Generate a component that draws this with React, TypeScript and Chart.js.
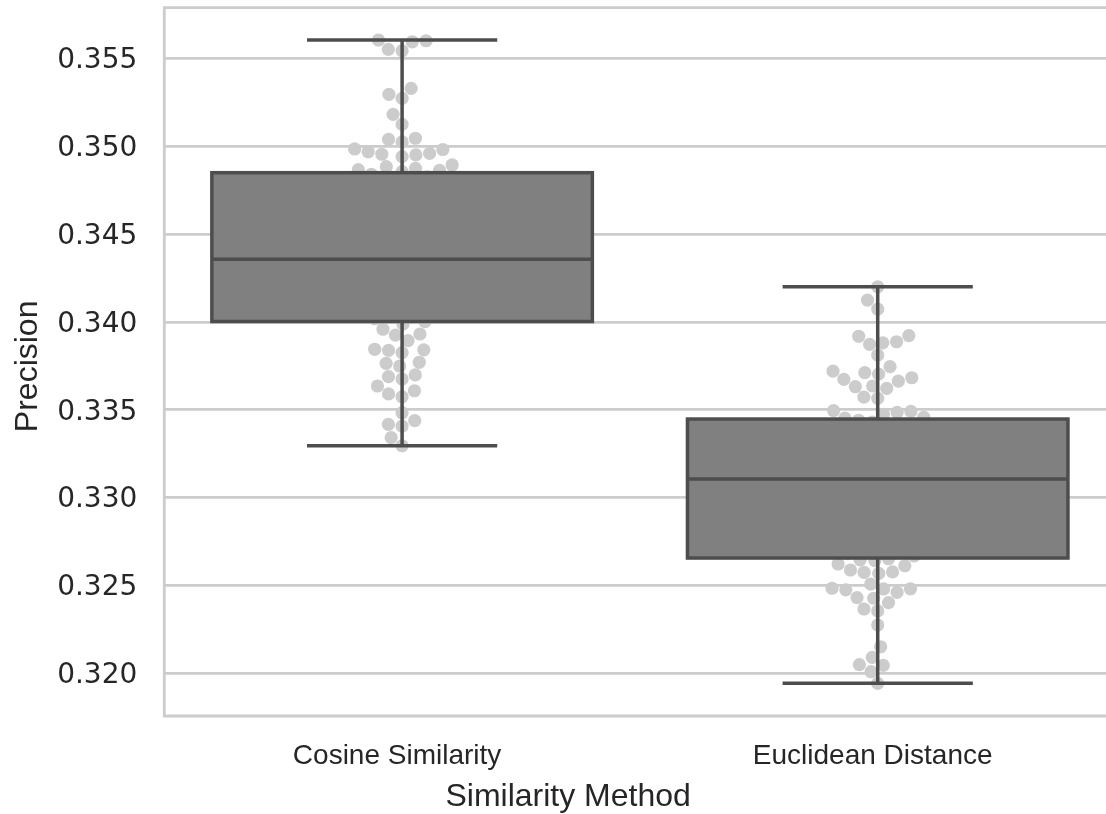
import React, { useEffect, useRef } from 'react';
import { Chart, registerables } from 'chart.js';

Chart.register(...registerables);

// Categories on the x axis
const categories = ['Cosine Similarity', 'Euclidean Distance'];
const xAxisTitle = 'Similarity Method';
const yAxisTitle = 'Precision';

// Precision per run, Cosine Similarity
const cosinePrecision = [
  0.35604, 0.35600, 0.35594, 0.35551, 0.35543, 0.35329, 0.35295, 0.35272, 0.35181, 0.35124,
  0.35045, 0.35039, 0.35024, 0.34984, 0.34981, 0.34968, 0.34959, 0.34954, 0.34950, 0.34940,
  0.34893, 0.34883, 0.34874, 0.34866, 0.34862, 0.34855,
  0.34840, 0.34826, 0.34812, 0.34797, 0.34775, 0.34768, 0.34744, 0.34719, 0.34703, 0.34681,
  0.34655, 0.34642, 0.34614, 0.34597, 0.34581, 0.34556, 0.34530, 0.34522, 0.34496, 0.34473,
  0.34459, 0.34431, 0.34418, 0.34402, 0.34379, 0.34362, 0.34356, 0.34341, 0.34327, 0.34305,
  0.34293, 0.34266, 0.34258, 0.34239, 0.34212, 0.34204, 0.34181, 0.34167, 0.34149, 0.34123,
  0.34118, 0.34094, 0.34071, 0.34066, 0.34052, 0.34030, 0.34018,
  0.34001, 0.33988, 0.33958, 0.33931, 0.33925, 0.33893, 0.33844, 0.33841, 0.33838, 0.33825,
  0.33770, 0.33764, 0.33749, 0.33698, 0.33688, 0.33675, 0.33635, 0.33608, 0.33590, 0.33574,
  0.33483, 0.33438, 0.33417, 0.33407, 0.33341, 0.33295,
];

// Precision per run, Euclidean Distance
const euclideanPrecision = [
  0.34200, 0.34124, 0.34073, 0.33922, 0.33918, 0.33887, 0.33881, 0.33872, 0.33811, 0.33745,
  0.33720, 0.33711, 0.33703, 0.33682, 0.33673, 0.33663, 0.33635, 0.33631, 0.33622, 0.33572,
  0.33565, 0.33495, 0.33491, 0.33485, 0.33474, 0.33457, 0.33452,
  0.33440, 0.33429, 0.33416, 0.33401, 0.33389, 0.33367, 0.33355, 0.33332, 0.33318, 0.33293,
  0.33276, 0.33251, 0.33238, 0.33214, 0.33196, 0.33172, 0.33157, 0.33133, 0.33118, 0.33106,
  0.33094, 0.33071, 0.33052, 0.33029, 0.33007, 0.32988, 0.32964, 0.32937, 0.32921, 0.32902,
  0.32871, 0.32858, 0.32836, 0.32813, 0.32794, 0.32779, 0.32751, 0.32738, 0.32717, 0.32703,
  0.32681, 0.32668,
  0.32652, 0.32646, 0.32641, 0.32622, 0.32612, 0.32588, 0.32577, 0.32574, 0.32569, 0.32508,
  0.32484, 0.32481, 0.32480, 0.32475, 0.32461, 0.32431, 0.32427, 0.32402, 0.32366, 0.32355,
  0.32275, 0.32151, 0.32091, 0.32049, 0.32045, 0.32009, 0.31943,
];

// Box statistics per category
const whiskerLow = [0.33295, 0.31943];
const quartile1 = [0.34002, 0.32656];
const medians = [0.34356, 0.33106];
const quartile3 = [0.34849, 0.33447];
const whiskerHigh = [0.35604, 0.342];

// Y axis ticks and range
const yTickValues = [0.32, 0.325, 0.33, 0.335, 0.34, 0.345, 0.35, 0.355];
const yTickLabels = ['0.320', '0.325', '0.330', '0.335', '0.340', '0.345', '0.350', '0.355'];
const yMin = 0.31757;
const yMax = 0.35788;

const POINT_RADIUS = 6.6;
const BOX_WIDTH = 0.8;
const CAP_WIDTH = 0.4;
const SPINE = '#cccccc';
const BOX_FILL = '#808080';
const BOX_LINE = '#4d4d4d';
const TEXT = '#262626';
const TITLE_FONT = '32px "Liberation Sans", Arial, sans-serif';

// Beeswarm layout (pixel space): points placed from lowest value upward,
// each at the non-overlapping candidate closest to the centre line.
function beeswarm(py: number[], r: number): number[] {
  const d = 2 * r;
  const order = py.map((_, i) => i).sort((a, b) => py[b] - py[a] || a - b);
  const placed: { x: number; y: number }[] = [];
  const out = new Array(py.length).fill(0);
  for (const i of order) {
    const y = py[i];
    const neighbors: { x: number; y: number }[] = [];
    for (let k = placed.length - 1; k >= 0; k--) {
      if (Math.abs(y - placed[k].y) < d) neighbors.push(placed[k]);
      else break;
    }
    const cands: number[] = [0];
    let leftFirst = true;
    for (const n of neighbors) {
      const dy = y - n.y;
      const dx = Math.sqrt(Math.max(d * d - dy * dy, 0)) * 1.05;
      if (leftFirst) cands.push(n.x - dx, n.x + dx);
      else cands.push(n.x + dx, n.x - dx);
      leftFirst = !leftFirst;
    }
    const sorted = cands
      .map((x, k) => ({ x, k }))
      .sort((a, b) => Math.abs(a.x) - Math.abs(b.x) || a.k - b.k);
    let chosen = 0;
    for (const c of sorted) {
      if (neighbors.every((n) => (n.x - c.x) ** 2 + (n.y - y) ** 2 >= d * d - 1e-9)) {
        chosen = c.x;
        break;
      }
    }
    placed.push({ x: chosen, y });
    out[i] = chosen;
  }
  return out;
}

const boxPlotPlugin = {
  id: 'boxPlot',
  beforeDatasetsDraw(chart: any) {
    const { ctx, chartArea: a } = chart;
    ctx.save();
    ctx.strokeStyle = SPINE;
    ctx.lineWidth = 2.8;
    ctx.beginPath();
    ctx.moveTo(a.left, a.top);
    ctx.lineTo(a.right, a.top);
    ctx.moveTo(a.left, a.bottom);
    ctx.lineTo(a.right, a.bottom);
    ctx.moveTo(a.left, a.top - 1.4);
    ctx.lineTo(a.left, a.bottom + 1.4);
    ctx.stroke();
    ctx.restore();
  },
  afterDatasetsDraw(chart: any) {
    const { ctx } = chart;
    const xs = chart.scales.x;
    const ys = chart.scales.y;
    ctx.save();
    ctx.strokeStyle = BOX_LINE;
    ctx.lineWidth = 3.5;
    ctx.lineCap = 'butt';
    categories.forEach((_, i) => {
      const cx = xs.getPixelForValue(i);
      const bl = xs.getPixelForValue(i - BOX_WIDTH / 2);
      const br = xs.getPixelForValue(i + BOX_WIDTH / 2);
      const cl = xs.getPixelForValue(i - CAP_WIDTH / 2);
      const cr = xs.getPixelForValue(i + CAP_WIDTH / 2);
      const yLo = ys.getPixelForValue(whiskerLow[i]);
      const yQ1 = ys.getPixelForValue(quartile1[i]);
      const yMed = ys.getPixelForValue(medians[i]);
      const yQ3 = ys.getPixelForValue(quartile3[i]);
      const yHi = ys.getPixelForValue(whiskerHigh[i]);

      ctx.beginPath();
      ctx.moveTo(cx, yQ3);
      ctx.lineTo(cx, yHi);
      ctx.moveTo(cx, yQ1);
      ctx.lineTo(cx, yLo);
      ctx.moveTo(cl, yHi);
      ctx.lineTo(cr, yHi);
      ctx.moveTo(cl, yLo);
      ctx.lineTo(cr, yLo);
      ctx.stroke();

      ctx.fillStyle = BOX_FILL;
      ctx.fillRect(bl, yQ3, br - bl, yQ1 - yQ3);
      ctx.strokeRect(bl, yQ3, br - bl, yQ1 - yQ3);

      ctx.beginPath();
      ctx.moveTo(bl, yMed);
      ctx.lineTo(br, yMed);
      ctx.stroke();
    });
    ctx.restore();
  },
  afterDraw(chart: any) {
    // Axis titles
    const { ctx, chartArea: a } = chart;
    ctx.save();
    ctx.fillStyle = TEXT;
    ctx.font = TITLE_FONT;
    ctx.textAlign = 'center';
    ctx.textBaseline = 'alphabetic';
    ctx.fillText(xAxisTitle, (a.left + a.right) / 2 - 67, a.bottom + 90);
    ctx.translate(36.7, (a.top + a.bottom) / 2 + 4.5);
    ctx.rotate(-Math.PI / 2);
    ctx.fillText(yAxisTitle, 0, 0);
    ctx.restore();
  },
};

export default function App() {
  const canvasRef = useRef<HTMLCanvasElement | null>(null);

  useEffect(() => {
    const canvas = canvasRef.current;
    if (!canvas) return;
    const series = [cosinePrecision, euclideanPrecision];

    const zeroPadding = (s: any) => {
      s.paddingTop = 0;
      s.paddingBottom = 0;
      s.paddingLeft = 0;
      s.paddingRight = 0;
    };

    const chart = new Chart(canvas, {
      type: 'scatter',
      data: {
        datasets: series.map((vals, i) => ({
          label: categories[i],
          data: vals.map((v) => ({ x: i, y: v })),
          pointRadius: POINT_RADIUS,
          pointHoverRadius: POINT_RADIUS,
          pointBackgroundColor: SPINE,
          pointBorderColor: SPINE,
          pointBorderWidth: 0,
        })),
      },
      options: {
        animation: false,
        responsive: false,
        devicePixelRatio: 1,
        layout: { autoPadding: false, padding: { top: 7.7, left: 0, right: 0, bottom: 0 } },
        plugins: {
          legend: { display: false },
          tooltip: { enabled: false },
        },
        scales: {
          x: {
            type: 'linear',
            position: 'bottom',
            min: -0.5,
            max: 1.48,
            afterBuildTicks: (s: any) => {
              s.ticks = categories.map((_, i) => ({ value: i }));
            },
            afterFit: (s: any) => {
              s.height = 98;
              zeroPadding(s);
            },
            grid: { display: false, drawTicks: false },
            border: { display: false },
            ticks: {
              callback: (v: any) => categories[Number(v)] ?? '',
              font: { family: 'Liberation Sans', size: 28 },
              color: TEXT,
              padding: 23.5,
              labelOffset: -5,
              maxRotation: 0,
              minRotation: 0,
              autoSkip: false,
            },
            title: { display: false },
          },
          y: {
            type: 'linear',
            min: yMin,
            max: yMax,
            afterBuildTicks: (s: any) => {
              s.ticks = yTickValues.map((v) => ({ value: v }));
            },
            afterFit: (s: any) => {
              s.width = 164.3;
              zeroPadding(s);
            },
            grid: { color: SPINE, lineWidth: 2.7, drawTicks: false },
            border: { display: false },
            ticks: {
              callback: (_v: any, idx: number) => yTickLabels[idx],
              font: { family: 'DejaVu Sans', size: 28 },
              color: TEXT,
              padding: 27,
              labelOffset: 2.5,
            },
            title: { display: false },
          },
        },
      },
      plugins: [boxPlotPlugin],
    } as any);

    // Spread points into a swarm using the laid-out scales
    const xs: any = chart.scales.x;
    const ys: any = chart.scales.y;
    const unit = xs.getPixelForValue(1) - xs.getPixelForValue(0);
    series.forEach((vals, i) => {
      const py = vals.map((v) => ys.getPixelForValue(v));
      const off = beeswarm(py, POINT_RADIUS);
      (chart.data.datasets[i] as any).data = vals.map((v, k) => ({ x: i + off[k] / unit, y: v }));
    });
    chart.update();

    return () => chart.destroy();
  }, []);

  return (
    <div style={{ position: 'absolute', left: 0, top: 0, width: 1106, height: 814, background: '#ffffff' }}>
      <canvas ref={canvasRef} width={1106} height={814} style={{ width: 1106, height: 814, display: 'block' }} />
    </div>
  );
}
